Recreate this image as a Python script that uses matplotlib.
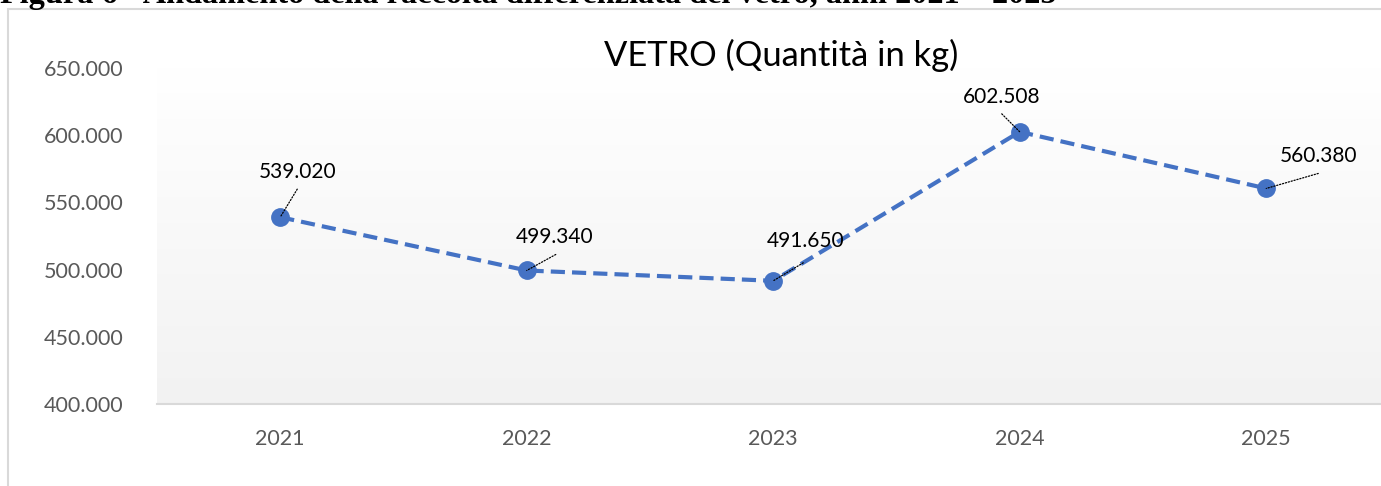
import matplotlib
matplotlib.use("Agg")
import matplotlib.pyplot as plt
import numpy as np
from matplotlib.patches import Rectangle
from matplotlib.ticker import FuncFormatter
from matplotlib.colors import LinearSegmentedColormap

# ---- data ----
years = ["2021", "2022", "2023", "2024", "2025"]
values = [539020, 499340, 491650, 602508, 560380]
value_labels = ["539.020", "499.340", "491.650", "602.508", "560.380"]
yticks = [400000, 450000, 500000, 550000, 600000, 650000]
title = "VETRO (Quantità in kg)"
caption = "Figura 6 - Andamento della raccolta differenziata del vetro, anni 2021 \u2013 2025"

# ---- layout (pixels) ----
W, H = 1381, 486
DPI = 100
label_off = [(17, 45), (28, 33), (32, 40), (-18, 35), (52, 32)]
leader_off = [(17, 28), (29, 16), (30, 18), (-18, 18), (52, 15)]

plt.rcParams['font.family'] = ['Lato', 'DejaVu Sans']

fig = plt.figure(figsize=(W / DPI, H / DPI), dpi=DPI)
fig.patch.set_facecolor("white")

# chart border (clipped at right/bottom)
fig.patches.append(Rectangle((8 / W, -0.1), 1.2, (H - 9) / H + 0.1,
                             transform=fig.transFigure, fill=False,
                             edgecolor="#d9d9d9", lw=1.5, zorder=0))

# caption (partly cut at top)
cap = fig.text(0.0, 1 - 2.5 / H, caption, family="Liberation Serif",
               weight="bold", fontsize=20, ha="left", va="baseline",
               color="black")
fig.canvas.draw()
r = fig.canvas.get_renderer()
w = cap.get_window_extent(r).width
cap.set_fontsize(20 * 1056 / w)

left, right = 157, 1389.5
top, bottom = 68, 404
ax = fig.add_axes([left / W, (H - bottom) / H, (right - left) / W, (bottom - top) / H])
ax.set_xlim(-0.5, 4.5)
ax.set_ylim(400000, 650000)

# gradient plot-area fill
grad = np.linspace(0, 1, 256).reshape(-1, 1)
cmap = LinearSegmentedColormap.from_list("g", ["#f2f2f2", "#ffffff"])
ax.imshow(grad, extent=(-0.5, 4.5, 400000, 650000), aspect="auto",
          cmap=cmap, origin="lower", zorder=0)

x = np.arange(len(years))
ax.plot(x, values, color="#4472c4", lw=3, ls=(0, (3.4, 1.7)),
        marker="o", markersize=12.5, markerfacecolor="#4472c4",
        markeredgecolor="#4472c4", zorder=3, dash_capstyle="butt")

for i, v in enumerate(values):
    ax.annotate(value_labels[i], xy=(i, v), xytext=label_off[i],
                textcoords="offset pixels", ha="center", va="center",
                fontsize=15, color="black", zorder=5)
    ax.annotate("", xy=(i, v), xytext=leader_off[i],
                textcoords="offset pixels",
                arrowprops=dict(arrowstyle="-", ls=(0, (1, 1.4)), lw=0.9,
                                color="black", shrinkA=0, shrinkB=0),
                zorder=6)

ax.set_xticks(x)
ax.set_xticklabels(years)
ax.set_yticks(yticks)
ax.yaxis.set_major_formatter(FuncFormatter(lambda v, p: f"{int(v):,}".replace(",", ".")))
ax.tick_params(axis="both", length=0, labelsize=15.5, colors="#595959")
ax.tick_params(axis="y", pad=24)
ax.tick_params(axis="x", pad=18)
for s in ["top", "right", "left"]:
    ax.spines[s].set_visible(False)
ax.spines["bottom"].set_color("#d9d9d9")
ax.spines["bottom"].set_linewidth(1.5)
ax.spines["bottom"].set_zorder(2)

fig.text(781 / W, 1 - 55 / H, title, ha="center", va="center",
         fontsize=24.8, color="black")

fig.savefig("out.png", dpi=DPI)
